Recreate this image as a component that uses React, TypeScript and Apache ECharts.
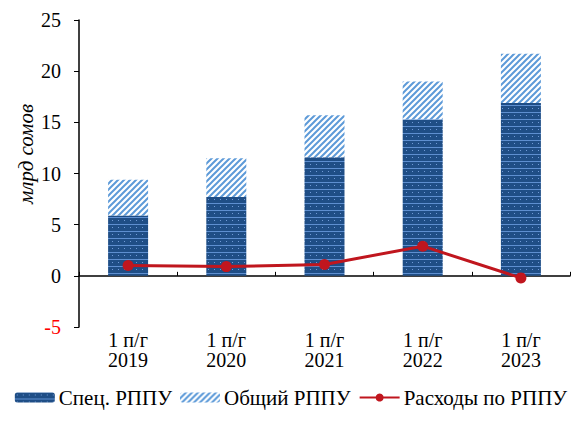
import React, { useEffect, useRef } from "react";
import * as echarts from "echarts";

const categories = ["1 п/г\n2019", "1 п/г\n2020", "1 п/г\n2021", "1 п/г\n2022", "1 п/г\n2023"];
const specValues = [5.9, 7.7, 11.6, 15.3, 16.9];
const commonValues = [3.5, 3.8, 4.1, 3.7, 4.8];
const expenseValues = [1.0, 0.9, 1.1, 2.9, -0.2];
const seriesNames = ["Спец. РППУ", "Общий РППУ", "Расходы по РППУ"];
const yAxisTitle = "млрд сомов";

function brickPattern(): string {
  const c = document.createElement("canvas");
  c.width = 12;
  c.height = 7;
  const ctx = c.getContext("2d")!;
  ctx.fillStyle = "#1f4e86";
  ctx.fillRect(0, 0, 12, 7);
  ctx.fillStyle = "#5e8fd0";
  ctx.fillRect(0, 6, 12, 1);
  ctx.fillStyle = "#6f9ad6";
  ctx.fillRect(2, 2, 1, 1);
  ctx.fillRect(8, 2, 1, 1);
  return c.toDataURL();
}

function stripePattern(): string {
  const c = document.createElement("canvas");
  c.width = 6;
  c.height = 6;
  const ctx = c.getContext("2d")!;
  ctx.fillStyle = "#ffffff";
  ctx.fillRect(0, 0, 6, 6);
  ctx.strokeStyle = "#5d9ad8";
  ctx.lineWidth = 2;
  ctx.beginPath();
  ctx.moveTo(-1, 7);
  ctx.lineTo(7, -1);
  ctx.moveTo(-4, 4);
  ctx.lineTo(4, -4);
  ctx.moveTo(2, 10);
  ctx.lineTo(10, 2);
  ctx.stroke();
  return c.toDataURL();
}

export default function App() {
  const ref = useRef<HTMLDivElement>(null);
  useEffect(() => {
    if (!ref.current) return;
    const chart = echarts.init(ref.current, null, { renderer: "svg" });
    const font = "Liberation Serif";
    const brick = { image: brickPattern(), repeat: "repeat" };
    const stripes = { image: stripePattern(), repeat: "repeat" };
    chart.setOption({
      animation: false,
      textStyle: { fontFamily: font },
      grid: { left: 71, right: 4, top: 12, bottom: 86 },
      graphic: [
        {
          type: "text",
          x: 18,
          y: 146,
          rotation: Math.PI / 2,
          style: {
            text: yAxisTitle,
            fontFamily: font,
            fontSize: 21,
            fontStyle: "italic",
            fill: "#000",
            align: "center",
            verticalAlign: "middle",
          },
        },
      ],
      legend: {
        bottom: 0,
        left: "center",
        itemWidth: 40,
        itemHeight: 10,
        itemGap: 8,
        textStyle: { fontFamily: font, fontSize: 21, color: "#000", padding: [0, 0, 0, -1] },
        data: [
          { name: seriesNames[0], itemStyle: { color: brick as any } },
          { name: seriesNames[1], itemStyle: { color: stripes as any } },
          { name: seriesNames[2] },
        ],
      },
      xAxis: [
        {
          type: "category",
          data: categories,
          position: "bottom",
          axisLine: { show: false, onZero: false },
          axisTick: { show: false },
          axisLabel: {
            fontFamily: font,
            fontSize: 20,
            color: "#000",
            lineHeight: 20,
            margin: 3,
          },
        },
        {
          type: "category",
          data: categories,
          position: "bottom",
          axisLine: { show: true, onZero: true, lineStyle: { color: "#000", width: 1.5 } },
          axisTick: { show: true, inside: true, length: 4, lineStyle: { color: "#000" } },
          axisLabel: { show: false },
        },
      ],
      yAxis: {
        type: "value",
        min: -5,
        max: 25,
        interval: 5,
        axisLine: { show: true, lineStyle: { color: "#000", width: 1.5 } },
        axisTick: { show: true, length: 5, lineStyle: { color: "#000" } },
        splitLine: { show: false },
        axisLabel: {
          fontFamily: font,
          fontSize: 20,
          margin: 18,
          color: (v: any) => (Number(v) < 0 ? "#ff0000" : "#000"),
        },
      },
      series: [
        {
          name: seriesNames[0],
          type: "bar",
          stack: "total",
          barWidth: 40,
          data: specValues,
          itemStyle: { color: brick as any },
        },
        {
          name: seriesNames[1],
          type: "bar",
          stack: "total",
          barWidth: 40,
          data: commonValues,
          itemStyle: { color: stripes as any },
        },
        {
          name: seriesNames[2],
          type: "line",
          data: expenseValues,
          symbol: "circle",
          symbolSize: 11,
          lineStyle: { color: "#c0161e", width: 3 },
          itemStyle: { color: "#c0161e" },
          z: 5,
        },
      ],
    });
    return () => chart.dispose();
  }, []);
  return <div ref={ref} style={{ width: 566, height: 405 }} />;
}
